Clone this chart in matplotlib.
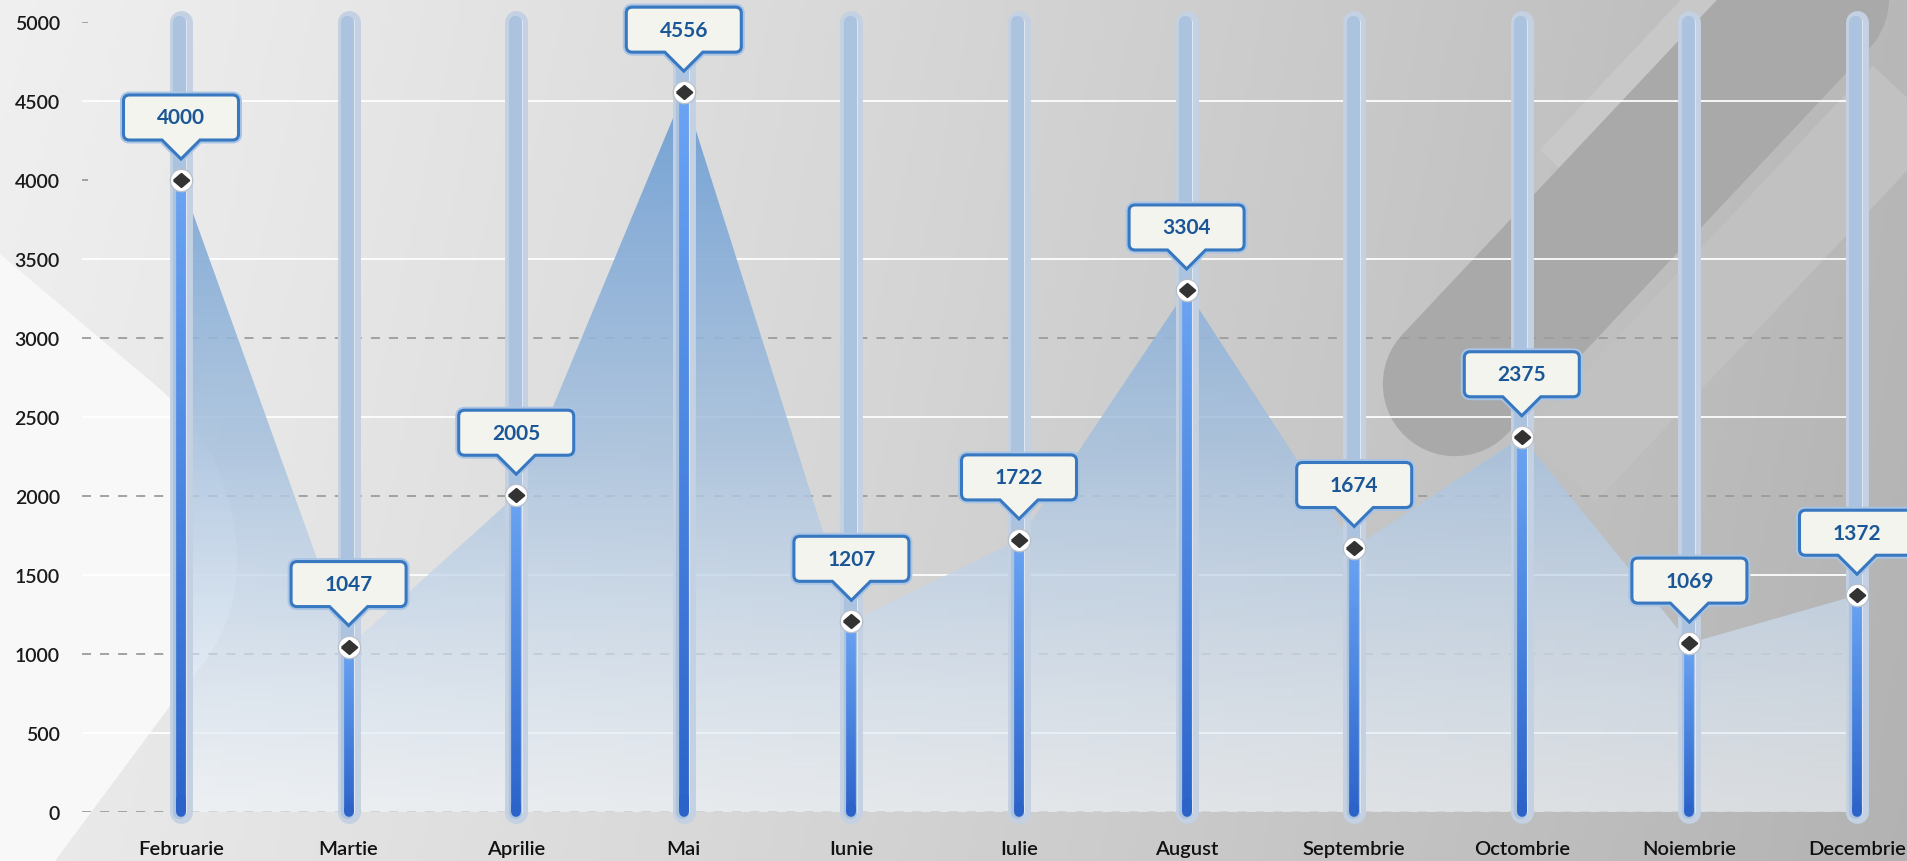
import numpy as np
import matplotlib.pyplot as plt
from matplotlib.path import Path
from matplotlib.patches import PathPatch
from matplotlib.collections import LineCollection
from matplotlib.colors import LinearSegmentedColormap
from matplotlib.transforms import Affine2D, ScaledTranslation

# data
months = ['Februarie', 'Martie', 'Aprilie', 'Mai', 'Iunie', 'Iulie',
          'August', 'Septembrie', 'Octombrie', 'Noiembrie', 'Decembrie']
values = [4000, 1047, 2005, 4556, 1207, 1722, 3304, 1674, 2375, 1069, 1372]
y_ticks = [0, 500, 1000, 1500, 2000, 2500, 3000, 3500, 4000, 4500, 5000]
dashed_lines = [0, 1000, 2000, 3000]
solid_lines = [500, 1500, 2500, 3500, 4500]
y_max = 5000

W, H = 1908, 862
plt.rcParams['font.family'] = ['Lato', 'DejaVu Sans']

fig = plt.figure(figsize=(W / 100, H / 100), dpi=100)

# fond gris en degrade + formes decoratives
bg = fig.add_axes([0, 0, 1, 1], zorder=0)
xx, yy = np.meshgrid(np.linspace(0, 1, 400), np.linspace(0, 1, 200))
g = 0.94 - 0.22 * xx ** 1.1 - 0.02 * yy
bg.imshow(np.dstack([g, g, g]), extent=[0, W, H, 0], aspect='auto', zorder=0)

d = np.array([0.685, -0.729])
c = np.array([1455, 385])
bg.plot([1560, 1560 + d[0] * 900], [470, 470 + d[1] * 900], color='#c1c1c1',
        lw=70, solid_capstyle='butt', zorder=1)
bg.plot([1560, 1560 + d[0] * 900], [170, 170 + d[1] * 900], color='#c8c8c8',
        lw=40, solid_capstyle='butt', zorder=1)
bg.plot([c[0], c[0] + d[0] * 1000], [c[1], c[1] + d[1] * 1000], color='#a9a9a9',
        lw=104, solid_capstyle='round', zorder=2)

white = Path([(0, 255), (160, 390), (240, 460), (270, 600), (190, 680), (55, 862), (0, 862), (0, 255)],
             [Path.MOVETO, Path.LINETO, Path.CURVE4, Path.CURVE4, Path.CURVE4,
              Path.LINETO, Path.LINETO, Path.CLOSEPOLY])
bg.add_patch(PathPatch(white, facecolor='#f8f8f8', edgecolor='none', zorder=2))
bg.set_xlim(0, W)
bg.set_ylim(H, 0)
bg.axis('off')

# axes principal
x = np.arange(len(months))
x0_px, step_px = 181, 167.6
left_px, right_px = 82, 1877
ax = fig.add_axes([left_px / W, (H - 813) / H, (right_px - left_px) / W, (813 - 23) / H], zorder=1)
ax.patch.set_alpha(0)
for s in ax.spines.values():
    s.set_visible(False)
xmin = (left_px - x0_px) / step_px
xmax = (right_px - x0_px) / step_px
grid_end = (1850 - x0_px) / step_px

ax.hlines(dashed_lines, xmin, grid_end, colors='#9c9c9c', linestyles=(0, (5, 5)), lw=1.3, zorder=1)
ax.hlines(solid_lines, xmin, grid_end, colors='white', lw=1.4, alpha=0.9, zorder=1)
ax.hlines([4000, 5000], xmin, xmin + 6 / step_px, colors='#9c9c9c', lw=1.3, zorder=1)

# aire sous la courbe
poly = ax.fill_between(x, values, 0, facecolor='none', edgecolor='none')
area_cmap = LinearSegmentedColormap.from_list(
    'area', [(0.95, 0.97, 0.99, 0.6), (0.66, 0.76, 0.87, 0.85), (0.43, 0.62, 0.83, 0.95)])
grad = np.linspace(0, 1, 256).reshape(-1, 1)
im = ax.imshow(grad, extent=[x[0], x[-1], 0, max(values)], origin='lower',
               cmap=area_cmap, aspect='auto', zorder=2)
im.set_clip_path(poly.get_paths()[0], transform=ax.transData)

# rails
off = 1 / step_px
for xi in x:
    ax.plot([xi, xi], [0, y_max], color='#c3d1e2', lw=16.5, solid_capstyle='round',
            zorder=3, clip_on=False)
    ax.plot([xi + 3.5 * off, xi + 3.5 * off], [0, y_max], color='#eef3fa', lw=4,
            solid_capstyle='round', zorder=3, clip_on=False)
    ax.plot([xi - 1.5 * off, xi - 1.5 * off], [0, y_max], color='#abc3df', lw=9.5,
            solid_capstyle='round', zorder=3, clip_on=False)

# barres de valeur en degrade
bar_cmap = LinearSegmentedColormap.from_list('bar', ['#2c63c9', '#4a85e0', '#6aa3f2'])
for xi, v in zip(x, values):
    ys = np.linspace(0, v, 80)
    segs = [[(xi, ys[k]), (xi, ys[k + 1])] for k in range(len(ys) - 1)]
    lc = LineCollection(segs, colors=bar_cmap(np.linspace(0, 1, len(segs))), lw=7,
                        capstyle='butt', zorder=4)
    ax.add_collection(lc)
    ax.plot([xi, xi], [0, v * 0.02], color='#2c63c9', lw=7, solid_capstyle='round',
            zorder=4, clip_on=False)

# marqueurs
ax.scatter(x, values, s=260, c='white', edgecolors='#b9c2cc', linewidths=1, zorder=6, clip_on=False)
diamond = [(-1, 0), (0, 0.85), (1, 0), (0, -0.85), (-1, 0)]
ax.scatter(x, values, s=125, marker=diamond, c='#333333', edgecolors='#333333',
           linewidths=1.5, zorder=7, clip_on=False)

# bulles
px = fig.dpi / 100
hw, r, pb = 57.5, 6, 19
yb, yt, tip = 40, 85, 21
bubble = Path(
    [(-hw + r, yb), (-pb, yb), (0, tip), (pb, yb), (hw - r, yb), (hw, yb), (hw, yb + r),
     (hw, yt - r), (hw, yt), (hw - r, yt), (-hw + r, yt), (-hw, yt), (-hw, yt - r),
     (-hw, yb + r), (-hw, yb), (-hw + r, yb), (-hw + r, yb)],
    [Path.MOVETO, Path.LINETO, Path.LINETO, Path.LINETO, Path.LINETO, Path.CURVE3, Path.CURVE3,
     Path.LINETO, Path.CURVE3, Path.CURVE3, Path.LINETO, Path.CURVE3, Path.CURVE3,
     Path.LINETO, Path.CURVE3, Path.CURVE3, Path.CLOSEPOLY])
for xi, v in zip(x, values):
    tr = Affine2D().scale(px) + ScaledTranslation(xi, v, ax.transData)
    ax.add_patch(PathPatch(bubble, transform=tr, facecolor='none', edgecolor='#a9c4e4',
                           lw=5, zorder=8, clip_on=False))
    ax.add_patch(PathPatch(bubble, transform=tr, facecolor='#f4f4ef', edgecolor='#3778c0',
                           lw=2.2, zorder=9, clip_on=False))
    ax.annotate(str(v), (xi, v), xytext=(0, (yb + yt) / 2 * 0.72), textcoords='offset points',
                ha='center', va='center', fontsize=15, fontweight='bold', color='#1b5796',
                zorder=10, annotation_clip=False)

ax.set_xlim(xmin, xmax)
ax.set_ylim(0, y_max)
ax.set_yticks(y_ticks)
ax.set_xticks(x, months)
ax.tick_params(axis='y', length=0, pad=16, labelsize=14, labelcolor='#1a1a1a')
ax.tick_params(axis='x', length=0, pad=20, labelsize=14.5, labelcolor='#111111')
for lab in ax.get_xticklabels() + ax.get_yticklabels():
    lab.set_fontweight('semibold')

fig.savefig('out.png', dpi=100)
